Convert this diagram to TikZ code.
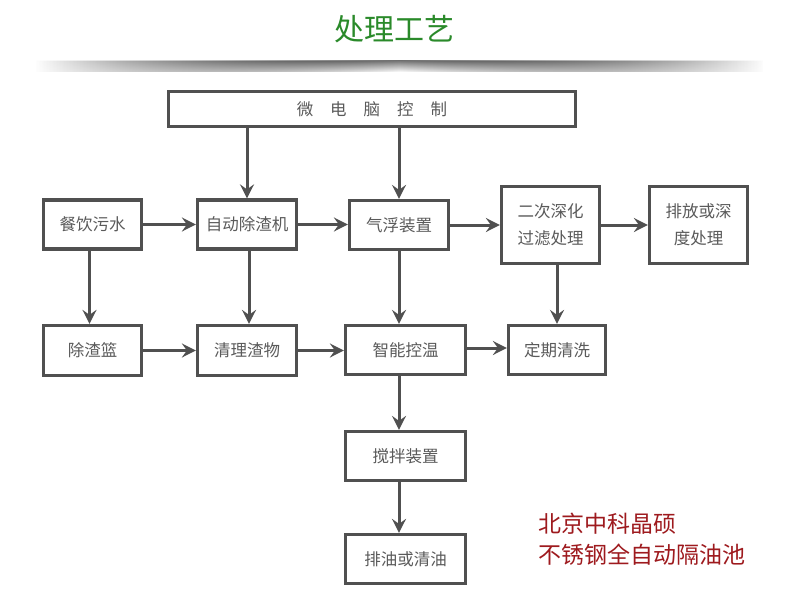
\documentclass[tikz,border=0pt]{standalone}
\usepackage{fontspec}
\setmainfont{Noto Sans CJK SC}
\usetikzlibrary{arrows.meta,fadings}
\definecolor{ln}{HTML}{505050}
\definecolor{tx}{HTML}{5A5A5A}
\definecolor{tg}{HTML}{2A8A2A}
\definecolor{rd}{HTML}{9E1A1E}
\tikzfading[name=hfade, left color=transparent!100, right color=transparent!100, middle color=transparent!0]
\begin{document}
\begin{tikzpicture}[x=1pt,y=-1pt,
  box/.style={draw=ln, line width=3.2pt, fill=white, text=tx,
    font=\fontsize{16.5}{27}\selectfont, align=center, inner sep=0pt},
  arr/.style={draw=ln, line width=3pt, -{Stealth[length=14pt,width=14pt,inset=5pt]}}]
\useasboundingbox (0,0) rectangle (790,602);
\fill[white] (0,0) rectangle (790,602);
% title
\node[text=tg, font=\fontsize{30}{34}\selectfont] (title) at (394,29) {处理工艺};
% shadow band
\fill[top color=black!52, bottom color=white, path fading=hfade] (36,61) rectangle (764,72);
% boxes
\node[box, minimum width=407pt, minimum height=35pt] (wd) at (372,109) {微\hspace{17pt}电\hspace{17pt}脑\hspace{17pt}控\hspace{17pt}制};
\node[box, minimum width=98pt, minimum height=49pt] (cy) at (92.5,224.5) {餐饮污水};
\node[box, minimum width=99pt, minimum height=49pt] (zd) at (247,224.5) {自动除渣机};
\node[box, minimum width=99pt, minimum height=49pt] (qf) at (399,225) {气浮装置};
\node[box, minimum width=98pt, minimum height=77pt] (ec) at (550.5,225) {二次深化\\过滤处理};
\node[box, minimum width=98pt, minimum height=77pt] (pf) at (698.5,225) {排放或深\\度处理};
\node[box, minimum width=98pt, minimum height=50pt] (cz) at (92.5,350.5) {除渣篮};
\node[box, minimum width=99pt, minimum height=50pt] (ql) at (247,350.5) {清理渣物};
\node[box, minimum width=120pt, minimum height=49pt] (zn) at (405.5,350) {智能控温};
\node[box, minimum width=97pt, minimum height=49pt] (dq) at (557,350) {定期清洗};
\node[box, minimum width=120pt, minimum height=49pt] (jb) at (405.5,456) {搅拌装置};
\node[box, minimum width=120pt, minimum height=49pt] (py) at (405.5,559) {排油或清油};
% red text
\node[text=rd, align=left, inner sep=0pt,
  font=\fontsize{23}{31}\selectfont] (brand) at (642,539) {北京中科晶硕\hfill\null\\不锈钢全自动隔油池};
% arrows
\draw[arr] (wd.south -| zd) -- (zd.north);
\draw[arr] (wd.south -| qf) -- (qf.north);
\draw[arr] (cy.east) -- (zd.west);
\draw[arr] (zd.east) -- (qf.west |- zd.east);
\draw[arr] (qf.east) -- (qf.east -| ec.west);
\draw[arr] (ec.east |- qf.east) -- (pf.west |- qf.east);
\draw[arr] ([xshift=-3pt]cy.south) -- ([xshift=-3pt]cz.north);
\draw[arr] ([xshift=2pt]zd.south) -- ([xshift=2pt]ql.north);
\draw[arr] (qf.south) -- (qf.south |- zn.north);
\draw[arr] (ec.south -| dq) -- (dq.north);
\draw[arr] (cz.east) -- (ql.west);
\draw[arr] (ql.east) -- (zn.west |- ql.east);
\draw[arr] ([yshift=2pt]zn.east) -- ([yshift=2pt]dq.west);
\draw[arr] (zn.south -| qf) -- (jb.north -| qf);
\draw[arr] (jb.south -| qf) -- (py.north -| qf);
\end{tikzpicture}
\end{document}
